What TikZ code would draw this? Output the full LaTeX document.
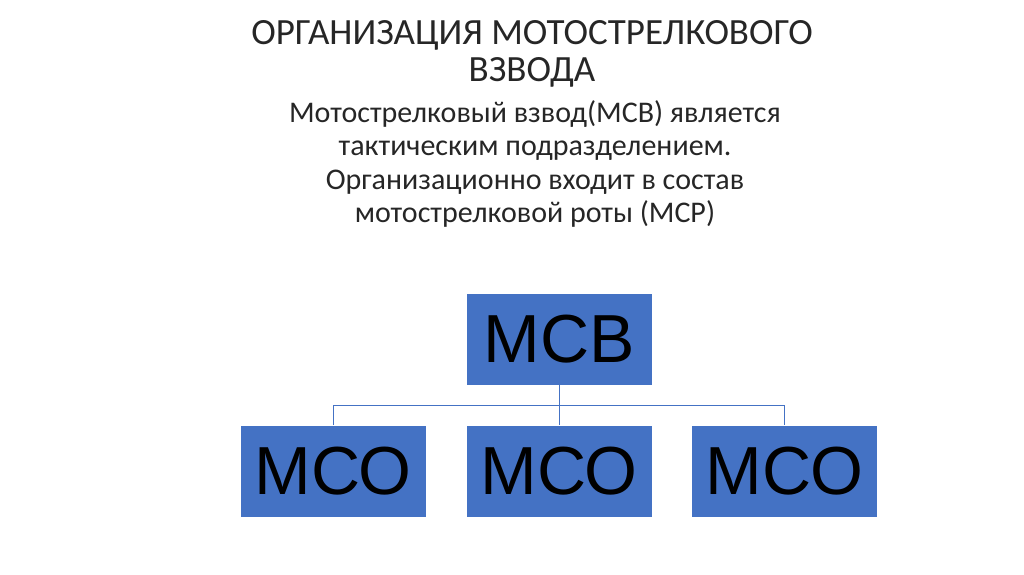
\documentclass[tikz,border=0pt]{standalone}
\usepackage{fontspec}
\setmainfont{Carlito}
\newfontfamily\boxfont{Liberation Sans}
\definecolor{boxblue}{HTML}{4472C4}
\definecolor{txt}{HTML}{262626}
\begin{document}
\begin{tikzpicture}[x=1pt,y=-1pt,
  orgbox/.style={fill=boxblue,draw=white,line width=0.8pt,minimum width=186pt,minimum height=92pt,inner sep=0pt,font=\boxfont\fontsize{68}{72}\selectfont,text=black},
  link/.style={draw=boxblue,line width=0.9pt}]
\useasboundingbox (0,0) rectangle (1024,574);
\node[text=txt,align=center,font=\fontsize{37}{37}\selectfont] (title) at (532,54) {ОРГАНИЗАЦИЯ МОТОСТРЕЛКОВОГО\\ВЗВОДА};
\node[text=txt,align=center,font=\fontsize{30}{33.5}\selectfont] (sub) at (535,164) {Мотострелковый взвод(МСВ) является\\тактическим подразделением.\\Организационно входит в состав\\мотострелковой роты (МСР)};
\node[orgbox] (top) at (559,339) {МСВ};
\node[orgbox] (c1) at (333,471.5) {МСО};
\node[orgbox] (c2) at (559,471.5) {МСО};
\node[orgbox] (c3) at (784.5,471.5) {МСО};
\coordinate (hl) at (333,405);
\coordinate (hr) at (784.5,405);
\path[link] (top.south) -- (c2.north);
\path[link] (c1.north) -- (hl) -- (hr) -- (c3.north);
\end{tikzpicture}
\end{document}
